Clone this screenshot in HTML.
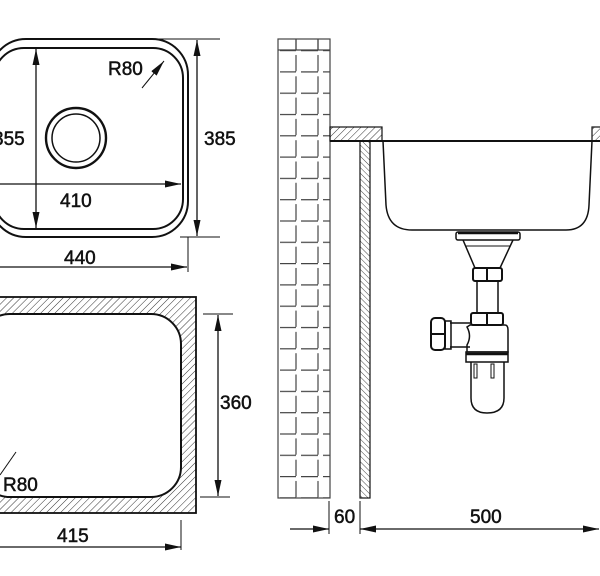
<!DOCTYPE html>
<html><head><meta charset="utf-8"><style>
html,body{margin:0;padding:0;background:#fff}
svg{display:block}
text{font-family:"Liberation Sans",Arial,sans-serif;font-size:19px;fill:#111;stroke:#111;stroke-width:0.5}
</style></head><body>
<svg width="600" height="576" viewBox="0 0 600 576" xmlns="http://www.w3.org/2000/svg">
<defs>
<pattern id="h1" patternUnits="userSpaceOnUse" width="5" height="5" patternTransform="rotate(45)">
<line x1="0" y1="0" x2="0" y2="5" stroke="#333" stroke-width="1"/></pattern>
<pattern id="h2" patternUnits="userSpaceOnUse" width="4" height="4" patternTransform="rotate(-45)">
<line x1="0" y1="0" x2="0" y2="4" stroke="#333" stroke-width="0.9"/></pattern>
<pattern id="brick" patternUnits="userSpaceOnUse" x="278" y="50" width="52" height="21.3">
<g stroke="#444" stroke-width="1.2" fill="none">
<line x1="2" y1="0.6" x2="18" y2="0.6"/><line x1="23" y1="0.6" x2="40" y2="0.6"/><line x1="45" y1="0.6" x2="52" y2="0.6"/>
<line x1="18" y1="5" x2="18" y2="21.3"/><line x1="40" y1="5" x2="40" y2="21.3"/>
</g></pattern>
<marker id="a" viewBox="0 0 10 10" refX="10" refY="5" markerWidth="16" markerHeight="7" markerUnits="userSpaceOnUse" orient="auto-start-reverse" preserveAspectRatio="none">
<path d="M0 0 L10 5 L0 10 Z" fill="#111"/></marker>
</defs>
<g fill="none" stroke="#111" stroke-width="1.3">
<rect x="-10" y="39" width="198" height="198" rx="36" stroke-width="2"/>
<rect x="-6" y="48" width="189" height="181" rx="30" stroke-width="2"/>
<circle cx="76" cy="138" r="30" stroke-width="2.4"/>
<circle cx="76" cy="138" r="24" stroke-width="1.5"/>
<line x1="36" y1="49" x2="36" y2="228" marker-start="url(#a)" marker-end="url(#a)"/>
<line x1="0" y1="184" x2="181" y2="184" marker-end="url(#a)"/>
<line x1="0" y1="267" x2="187" y2="267" marker-end="url(#a)"/>
<line x1="188" y1="237" x2="188" y2="272" stroke-width="1"/>
<line x1="150" y1="39" x2="220" y2="39" stroke-width="1"/>
<line x1="180" y1="237" x2="220" y2="237" stroke-width="1"/>
<line x1="197" y1="40" x2="197" y2="236" marker-start="url(#a)" marker-end="url(#a)"/>
<line x1="142" y1="88" x2="164" y2="61" stroke-width="1" marker-end="url(#a)"/>
<rect x="-10" y="297" width="206" height="216" fill="url(#h1)" stroke-width="1.8"/>
<rect x="-20" y="314" width="201" height="183" rx="30" fill="#fff" stroke-width="2"/>
<line x1="218" y1="315" x2="218" y2="496" marker-start="url(#a)" marker-end="url(#a)"/>
<line x1="203" y1="314" x2="233" y2="314" stroke-width="1"/>
<line x1="200" y1="497" x2="230" y2="497" stroke-width="1"/>
<line x1="0" y1="547" x2="181" y2="547" marker-end="url(#a)"/>
<line x1="181" y1="520" x2="181" y2="550" stroke-width="1"/>
<line x1="16" y1="452" x2="0" y2="475" stroke-width="1"/>
<rect x="278" y="39" width="52" height="459" fill="url(#brick)" stroke="#444" stroke-width="1.2"/>
<line x1="278" y1="50" x2="330" y2="50" stroke="#444" stroke-width="1.2"/>
<line x1="296" y1="39" x2="296" y2="50" stroke="#444" stroke-width="1.2"/>
<line x1="318" y1="39" x2="318" y2="50" stroke="#444" stroke-width="1.2"/>
<rect x="330" y="127" width="52" height="14" fill="url(#h1)" stroke-width="1.2"/>
<rect x="592" y="127" width="10" height="14" fill="url(#h1)" stroke-width="1.2"/>
<rect x="360" y="141" width="10" height="357" fill="url(#h2)" stroke-width="1.2"/>
<line x1="330" y1="141" x2="600" y2="141" stroke-width="2"/>
<path d="M383 141 L386 205 Q388 230 412 230 L566 230 Q588 230 589 205 L592 141" stroke-width="1.5"/>
<rect x="456" y="232" width="64" height="8" rx="2" stroke-width="1.5"/>
<line x1="458" y1="233" x2="518" y2="233" stroke-width="2.5"/>
<path d="M463 240 L475 268 L500 268 L513 240" stroke-width="1.5"/>
<line x1="466" y1="246" x2="510" y2="246" stroke-width="1"/>
<rect x="473" y="268" width="29" height="13" rx="2" stroke-width="2"/>
<line x1="487" y1="268" x2="487" y2="281" stroke-width="2"/>
<rect x="477" y="281" width="21" height="32" stroke-width="1.5"/>
<rect x="471" y="313" width="32" height="12" rx="2" stroke-width="2"/>
<line x1="487" y1="313" x2="487" y2="325" stroke-width="2"/>
<path d="M450 323 L470 323 M450 347 L470 347" stroke-width="1.5"/>
<path d="M470 325 L505 325 Q508 325 508 330 L508 352 L467 352 L467 345 Q472 336 467 327 Z" stroke-width="1.5"/>
<rect x="445" y="321" width="6" height="28" stroke-width="1.5"/>
<rect x="431" y="318" width="14" height="32" rx="4" stroke-width="2"/>
<line x1="431" y1="334" x2="445" y2="334" stroke-width="2"/>
<rect x="466" y="352" width="42" height="10" stroke-width="1.5"/>
<line x1="466" y1="354" x2="508" y2="354" stroke-width="2.5"/>
<path d="M471 362 L471 398 Q471 413 487 413 Q504 413 504 398 L504 362" stroke-width="1.5"/>
<rect x="474" y="364" width="3" height="14" stroke-width="1"/>
<rect x="491" y="364" width="3" height="14" stroke-width="1"/>
<line x1="329" y1="501" x2="329" y2="534" stroke-width="1"/>
<line x1="360" y1="501" x2="360" y2="534" stroke-width="1"/>
<line x1="290" y1="529" x2="329" y2="529" marker-end="url(#a)"/>
<line x1="360" y1="529" x2="599" y2="529" marker-start="url(#a)" marker-end="url(#a)"/>
</g>
<text x="-7" y="145">355</text>
<text x="60" y="207">410</text>
<text x="64" y="264">440</text>
<text x="204" y="145">385</text>
<text x="108" y="75">R80</text>
<text x="220" y="409">360</text>
<text x="57" y="542">415</text>
<text x="3" y="491">R80</text>
<text x="334" y="523">60</text>
<text x="470" y="523">500</text>
</svg>
</body></html>
